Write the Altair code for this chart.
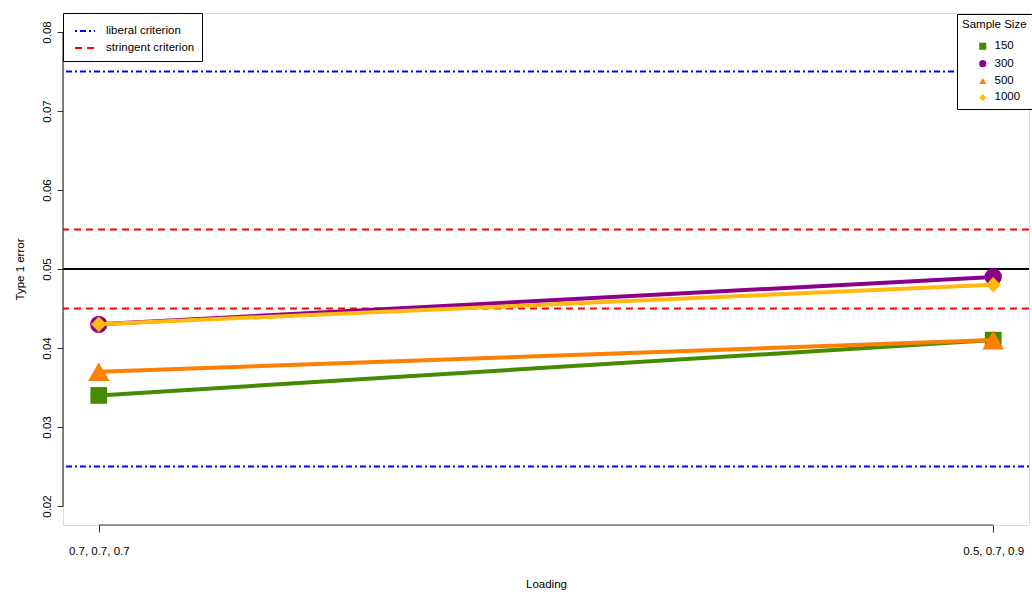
import altair as alt
import pandas as pd

# Simulated Type 1 error rates by loading pattern and sample size
loading_labels = ["0.7, 0.7, 0.7", "0.5, 0.7, 0.9"]
loading_pos = [1, 2]
sample_sizes = ["150", "300", "500", "1000"]
err_150 = [0.034, 0.041]
err_300 = [0.043, 0.049]
err_500 = [0.037, 0.041]
err_1000 = [0.043, 0.048]

series_colors = ["#458B00", "#8B008B", "#FF7F00", "#FFB90F"]
series_shapes = ["square", "circle", "triangle-up", "diamond"]
series_sizes = [280, 300, 460, 240]

criteria = ["liberal criterion", "stringent criterion"]
liberal_bounds = [0.025, 0.075]
stringent_bounds = [0.045, 0.055]
nominal_alpha = 0.05

FONT = "Liberation Sans"
FS = 11.5

rows = []
for size, vals in zip(sample_sizes, [err_150, err_300, err_500, err_1000]):
    for pos, v in zip(loading_pos, vals):
        rows.append({"size": size, "loading": pos, "err": v})
df = pd.DataFrame(rows)

crit_df = pd.DataFrame(
    [{"criterion": criteria[0], "y": b} for b in liberal_bounds]
    + [{"criterion": criteria[1], "y": b} for b in stringent_bounds]
)

x_scale = alt.Scale(domain=[0.96, 2.04], nice=False, zero=False)
y_scale = alt.Scale(domain=[0.0176, 0.0824], nice=False, zero=False)

label_expr = "datum.value == 1 ? '%s' : '%s'" % tuple(loading_labels)

x_enc = alt.X(
    "loading:Q",
    scale=x_scale,
    axis=alt.Axis(
        values=loading_pos, labelExpr=label_expr, title="Loading", domain=False,
        grid=False, tickSize=7, tickColor="#333333", labelPadding=13, titlePadding=22,
        labelFont=FONT, titleFont=FONT, labelFontSize=FS, titleFontSize=FS,
        titleFontWeight="normal", labelColor="black", titleColor="black",
    ),
)
y_enc = alt.Y(
    "err:Q",
    scale=y_scale,
    axis=alt.Axis(
        values=[0.02, 0.03, 0.04, 0.05, 0.06, 0.07, 0.08], format=".2f",
        title="Type 1 error", domain=False, grid=False, tickSize=6,
        tickColor="#333333", labelAngle=270, labelPadding=5, titlePadding=16,
        labelFont=FONT, titleFont=FONT, labelFontSize=FS, titleFontSize=FS,
        titleFontWeight="normal", labelColor="black", titleColor="black",
    ),
)

base = alt.Chart(df)

# Axis lines that span only the labelled range, as in base R graphics
xaxis_line = alt.Chart(pd.DataFrame({"x": [loading_pos[0]], "x2": [loading_pos[-1]], "y": [0.0176]})).mark_rule(
    color="#333333", strokeWidth=1.2
).encode(x=alt.X("x:Q", scale=x_scale), x2="x2:Q", y=alt.Y("y:Q", scale=y_scale))
yaxis_line = alt.Chart(pd.DataFrame({"x": [0.96], "y": [0.02], "y2": [0.08]})).mark_rule(
    color="#333333", strokeWidth=1.2
).encode(x=alt.X("x:Q", scale=x_scale), y=alt.Y("y:Q", scale=y_scale), y2="y2:Q")

crit_legend = alt.Legend(
    title=None, orient="none", legendX=0, legendY=0, symbolType="stroke",
    symbolSize=400, symbolStrokeWidth=2, labelFont=FONT, labelFontSize=FS,
    labelColor="black", labelOffset=10, padding=7, rowPadding=-3,
    strokeColor="black", fillColor="white", symbolOffset=4, labelLimit=200,
)

crit_rules = alt.Chart(crit_df).mark_rule(strokeWidth=2).encode(
    y=alt.Y("y:Q", scale=y_scale),
    color=alt.Color(
        "criterion:N",
        scale=alt.Scale(domain=criteria, range=["#0000FF", "#FF0000"]),
        legend=crit_legend,
    ),
    strokeDash=alt.StrokeDash(
        "criterion:N",
        scale=alt.Scale(domain=criteria, range=[[2, 3, 6, 3], [7, 5]]),
        legend=crit_legend,
    ),
)

alpha_rule = alt.Chart(pd.DataFrame({"y": [nominal_alpha]})).mark_rule(
    color="black", strokeWidth=2
).encode(y=alt.Y("y:Q", scale=y_scale))

size_legend = alt.Legend(
    title="Sample Size", orient="none", legendX=894, legendY=1,
    titleFont=FONT, titleFontSize=FS, titleFontWeight="normal", titleColor="black",
    labelFont=FONT, labelFontSize=FS, labelColor="black", symbolSize=50,
    symbolOpacity=1, labelOffset=6, padding=5, titlePadding=10, rowPadding=3.4,
    symbolOffset=15, strokeColor="black", fillColor="white",
)

# Invisible points that only carry the sample-size legend
legend_points = base.mark_point(filled=True, opacity=0).encode(
    x=x_enc, y=y_enc,
    fill=alt.Fill("size:N", scale=alt.Scale(domain=sample_sizes, range=series_colors), legend=size_legend),
    shape=alt.Shape("size:N", scale=alt.Scale(domain=sample_sizes, range=series_shapes), legend=size_legend),
)

# One line + marker layer per sample size, drawn in order
series_layers = []
for s, c, shp, sz in zip(sample_sizes, series_colors, series_shapes, series_sizes):
    sub = base.transform_filter(alt.datum.size == s)
    series_layers.append(sub.mark_line(color=c, strokeWidth=4).encode(x=x_enc, y=y_enc))
    series_layers.append(
        sub.mark_point(filled=True, opacity=1, color=c, shape=shp, size=sz, strokeWidth=0).encode(x=x_enc, y=y_enc)
    )

chart = (
    alt.layer(crit_rules, alpha_rule, xaxis_line, yaxis_line, legend_points, *series_layers)
    .properties(
        width=966, height=512,
        padding={"left": 63, "top": 13, "right": 3, "bottom": 69},
        autosize=alt.AutoSizeParams(type="none"),
    )
    .configure_view(stroke=None)
    .configure(background="white")
)

chart.save("out.html", embed_options={"renderer": "svg", "actions": False})
